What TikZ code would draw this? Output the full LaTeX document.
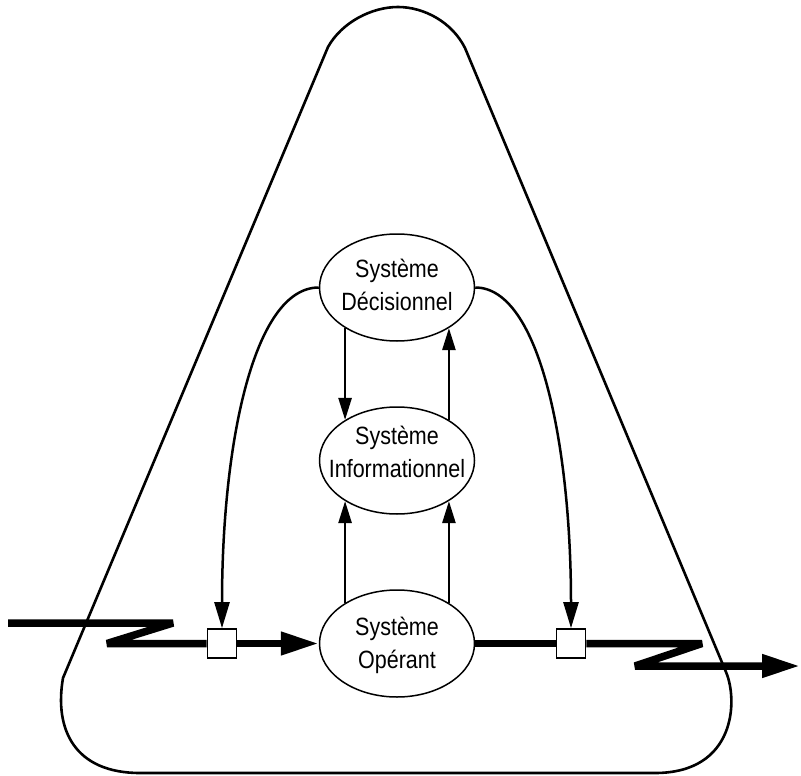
\documentclass[tikz,border=0pt]{standalone}
\usepackage{fontspec}
\setmainfont[FakeStretch=0.86]{Liberation Sans}
\usetikzlibrary{shapes.geometric,arrows.meta,calc}

% Two-line label of fixed footprint, shifted down by #1 (pt)
\newcommand{\syslabel}[2]{\makebox[0pt]{\smash{\raisebox{-#1pt}{\begin{tabular}{@{}c@{}}#2\end{tabular}}}}}

\begin{document}
\begin{tikzpicture}[x=1pt,y=-1pt,
  system/.style={ellipse, draw, line width=1.5pt, fill=white, inner sep=0pt,
                 minimum width=155pt, minimum height=107pt,
                 font=\fontsize{25}{33}\selectfont},
  gate/.style={rectangle, draw, line width=1.6pt, fill=white, minimum size=29pt, inner sep=0pt},
  flow/.style={line width=7.5pt, line join=bevel},
  flowhead/.style={-{Triangle[length=38pt,width=22pt]}},
  link/.style={line width=2.5pt, -{Triangle[length=26pt,width=15pt]}},
  feed/.style={line width=2.5pt, -{Triangle[length=22pt,width=13pt]}},
  hull/.style={line width=2.6pt, line join=round}]
\useasboundingbox (0,0) rectangle (801,776);

% enclosing system boundary
\draw[hull] (63,678) -- (328,47)
  .. controls (342,22) and (372,7) .. (398,7)
  .. controls (424,7) and (452,22) .. (465,48)
  -- (726,672)
  .. controls (738,700) and (736,773) .. (655,773)
  -- (140,773)
  .. controls (75,773) and (54,730) .. (63,678) -- cycle;

% the three subsystems
\node[system] (dec) at (397,287.5) {\syslabel{6}{Système\\Décisionnel}};
\node[system] (info) at (397,460.5) {\syslabel{0.5}{Système\\Informationnel}};
\node[system] (ope) at (397,643.5) {\syslabel{8}{Système\\Opérant}};

% regulation gates on the flow
\node[gate] (g1) at (222,643.5) {};
\node[gate] (g2) at (571,643.5) {};

% incoming and outgoing flow
\coordinate (in0) at (8,623);
\coordinate (in1) at (173,623);
\coordinate (in2) at (107,643.5);
\coordinate (out1) at (702,643.5);
\coordinate (out2) at (635,666);
\coordinate (out3) at (800,666);
\draw[flow] (in0) -- (in1) -- (in2) -- (g1);
\draw[flow, flowhead] (g1) -- (ope);
\draw[flow] (ope) -- (g2);
\draw[flow, flowhead] (g2) -- (out1) -- (out2) -- (out3);

% information exchanges between subsystems
\draw[feed] (dec.218) -- (info.142);
\draw[feed] (info.38) -- (dec.322);
\draw[feed] (ope.142) -- (info.218);
\draw[feed] (ope.38) -- (info.322);

% decisions acting on the gates
\draw[link] (dec.west) .. controls +(-65,0) and +(0,-185) .. (g1.north);
\draw[link] (dec.east) .. controls +(65,0) and +(0,-180) .. (g2.north);
\end{tikzpicture}
\end{document}
